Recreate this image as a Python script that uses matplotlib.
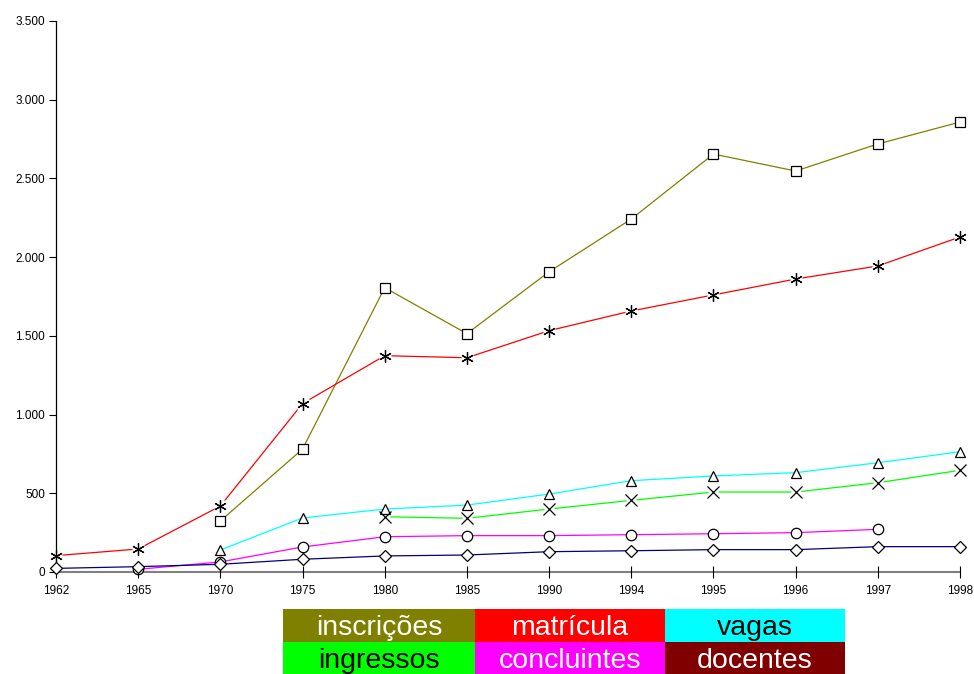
import numpy as np
import matplotlib.pyplot as plt
from matplotlib.ticker import FuncFormatter

plt.rcParams['font.family'] = ['Liberation Sans', 'DejaVu Sans']

anos = ["1962", "1965", "1970", "1975", "1980", "1985", "1990",
        "1994", "1995", "1996", "1997", "1998"]

# None where the series has no value for that year
inscricoes = [None, None, 324, 781, 1806, 1514, 1907, 2242, 2655, 2547, 2719, 2858]
matricula = [104, 146, 419, 1070, 1374, 1361, 1533, 1658, 1760, 1861, 1944, 2128]
vagas = [None, None, 140, 343, 400, 425, 495, 580, 610, 631, 694, 764]
ingressos = [None, None, None, None, 351, 341, 400, 455, 508, 508, 567, 646]
concluintes = [None, 17, 64, 159, 224, 231, 231, 237, 243, 250, 271, None]
docentes = [23, 34, 49, 81, 102, 108, 129, 135, 142, 142, 161, 161]

legenda = ["inscrições", "matrícula", "vagas", "ingressos", "concluintes", "docentes"]
cores_legenda = ["#808000", "#FF0000", "#00FFFF", "#00FF00", "#FF00FF", "#800000"]
texto_legenda = ["white", "white", "black", "black", "white", "white"]


def as_array(vals):
    return np.array([np.nan if v is None else v for v in vals], dtype=float)


fig = plt.figure(figsize=(9.74, 6.74), dpi=100)
ax = fig.add_axes([56 / 974, 102 / 674, 904 / 974, 551 / 674])

x = np.arange(len(anos))
asterisk = (6, 2, 0)
series = [
    (inscricoes, "#808000", "s", 7, False),
    (matricula, "#FF0000", asterisk, 9, True),
    (vagas, "#00FFFF", "^", 7.5, False),
    (ingressos, "#00FF00", "x", 8, True),
    (concluintes, "#FF00FF", "o", 7.5, False),
    (docentes, "#000080", "D", 6, False),
]

for vals, cor, mk, ms, gap in series:
    y = as_array(vals)
    ax.plot(x, y, color=cor, lw=0.9, zorder=2)
    if gap:
        # white patch behind line-only markers so the line breaks around them
        ax.plot(x, y, ls="none", marker="s", ms=ms * 0.9, mfc="white",
                mec="none", zorder=3, clip_on=False)
        ax.plot(x, y, ls="none", marker=mk, ms=ms, mec="black", mew=0.9,
                zorder=4, clip_on=False)
    else:
        ax.plot(x, y, ls="none", marker=mk, ms=ms, mfc="white", mec="black",
                mew=0.9, zorder=4, clip_on=False)

ax.set_xlim(0, len(anos) - 1)
ax.set_ylim(0, 3500)
ax.set_xticks(x)
ax.set_xticklabels(anos)
ax.set_yticks(np.arange(0, 3501, 500))
ax.yaxis.set_major_formatter(
    FuncFormatter(lambda v, p: f"{int(v):,}".replace(",", ".")))

for s in ["top", "right"]:
    ax.spines[s].set_visible(False)
ax.spines["left"].set_color("black")
ax.spines["left"].set_linewidth(0.9)
ax.spines["bottom"].set_color("#808080")
ax.spines["bottom"].set_linewidth(1.5)
ax.spines["bottom"].set_zorder(1)
ax.tick_params(axis="y", direction="out", length=5, width=0.8, labelsize=8.5,
               pad=3)
ax.tick_params(axis="x", direction="inout", length=9, width=0.8, labelsize=8.5,
               pad=5)

# colour-block legend under the axis
box_w = [192, 190, 180]
box_h = 33
x0, y0 = 283, 609
for i, nome in enumerate(legenda):
    row, col = divmod(i, 3)
    left = x0 + sum(box_w[:col])
    top = y0 + row * box_h
    bx = fig.add_axes([left / 974, (674 - top - box_h) / 674,
                       box_w[col] / 974, box_h / 674])
    bx.set_facecolor(cores_legenda[i])
    bx.set_xticks([])
    bx.set_yticks([])
    for s in bx.spines.values():
        s.set_visible(False)
    bx.text(0.5, 0.42, nome, ha="center", va="center", fontsize=20.5,
            color=texto_legenda[i], transform=bx.transAxes)

fig.savefig("out.png", dpi=100)
